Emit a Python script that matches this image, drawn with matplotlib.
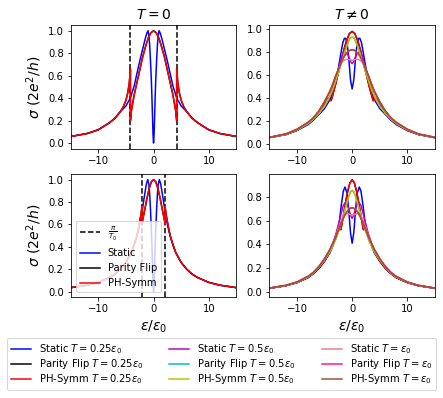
import numpy as np
import matplotlib
matplotlib.use("Agg")
from matplotlib import pyplot as plt

# half curves (eps >= 0), mirrored about eps = 0
T0_list = [0.75, 1.5]   # dashed lines at pi/T0

# ---- T = 0, T0 = 0.75 (top left)
x_st_a = [0, 0.1, 0.2, 0.3, 0.4, 0.55, 0.7, 0.85, 1.0, 1.2, 1.5, 2.0, 2.5, 3.0, 3.5, 4.2, 5, 6, 7, 8, 10, 12, 15]
y_st_a = [0, 0.08, 0.25, 0.42, 0.56, 0.73, 0.87, 0.96, 1.0, 0.98, 0.93, 0.83, 0.73, 0.62, 0.51, 0.40, 0.33, 0.28, 0.22, 0.18, 0.118, 0.085, 0.058]
x_ph_a = [0, 0.5, 1.0, 1.5, 2.0, 2.5, 3.0, 3.5, 4.0, 4.19, 4.19, 4.4, 4.7, 5.0, 5.5, 6.0, 7, 8, 10, 12, 15]
y_ph_a = [1.0, 0.98, 0.93, 0.85, 0.76, 0.65, 0.54, 0.43, 0.29, 0.2, 0.66, 0.53, 0.44, 0.38, 0.32, 0.28, 0.22, 0.18, 0.118, 0.085, 0.058]

# ---- T = 0, T0 = 1.5 (bottom left)
x_st_b = [0, 0.1, 0.2, 0.3, 0.4, 0.55, 0.7, 0.85, 1.05, 1.3, 1.6, 2.0, 2.5, 3.0, 3.5, 4, 5, 6, 7, 8, 10, 12, 15]
y_st_b = [0, 0.08, 0.25, 0.42, 0.56, 0.73, 0.87, 0.96, 1.0, 0.96, 0.87, 0.74, 0.6, 0.5, 0.42, 0.35, 0.26, 0.2, 0.155, 0.125, 0.082, 0.057, 0.035]
x_ph_b = [0, 0.4, 0.8, 1.2, 1.6, 2.0, 2.09, 2.09, 2.3, 2.6, 3.0, 3.5, 4, 5, 6, 7, 8, 10, 12, 15]
y_ph_b = [1.0, 0.98, 0.92, 0.83, 0.73, 0.63, 0.6, 0.76, 0.68, 0.6, 0.5, 0.42, 0.35, 0.26, 0.2, 0.155, 0.125, 0.082, 0.057, 0.035]

# ---- T != 0, T0 = 0.75 (top right)
x_tr = [0, 0.3, 0.6, 0.9, 1.2, 1.4, 1.7, 2.0, 2.5, 3.0, 3.5, 4.0, 5, 6, 7, 8, 10, 12, 15]
y_tr_st1 = [0.48, 0.56, 0.74, 0.88, 0.92, 0.92, 0.88, 0.8, 0.66, 0.54, 0.45, 0.39, 0.31, 0.26, 0.21, 0.17, 0.12, 0.085, 0.058]
y_tr_st2 = [0.70, 0.72, 0.76, 0.79, 0.80, 0.80, 0.78, 0.74, 0.65, 0.56, 0.48, 0.42, 0.33, 0.27, 0.22, 0.18, 0.125, 0.087, 0.059]
y_tr_st3 = [0.73, 0.733, 0.736, 0.738, 0.735, 0.73, 0.72, 0.70, 0.65, 0.59, 0.53, 0.47, 0.37, 0.29, 0.23, 0.19, 0.13, 0.09, 0.06]
y_tr_ph2 = [0.93, 0.925, 0.90, 0.86, 0.82, 0.79, 0.74, 0.70, 0.62, 0.55, 0.48, 0.42, 0.33, 0.27, 0.22, 0.18, 0.125, 0.087, 0.059]
y_tr_ph3 = [0.82, 0.818, 0.81, 0.795, 0.78, 0.765, 0.74, 0.71, 0.65, 0.59, 0.52, 0.46, 0.37, 0.29, 0.23, 0.19, 0.13, 0.09, 0.06]
x_tr_ph1 = [0, 0.5, 1.0, 1.5, 2.0, 2.5, 3.0, 3.5, 3.8, 4.0, 4.3, 4.7, 5.2, 6, 7, 8, 10, 12, 15]
y_tr_ph1 = [0.98, 0.96, 0.9, 0.82, 0.72, 0.62, 0.52, 0.43, 0.38, 0.38, 0.40, 0.38, 0.33, 0.27, 0.22, 0.18, 0.12, 0.085, 0.058]

# ---- T != 0, T0 = 1.5 (bottom right)
x_br = [0, 0.3, 0.6, 0.9, 1.3, 1.6, 2.0, 2.3, 2.7, 3.0, 3.5, 4, 5, 6, 7, 8, 10, 12, 15]
y_br_st1 = [0.41, 0.5, 0.68, 0.83, 0.885, 0.85, 0.72, 0.6, 0.51, 0.46, 0.39, 0.33, 0.26, 0.2, 0.155, 0.12, 0.078, 0.052, 0.03]
y_br_st2 = [0.62, 0.65, 0.70, 0.74, 0.75, 0.73, 0.66, 0.6, 0.53, 0.48, 0.41, 0.35, 0.27, 0.21, 0.16, 0.125, 0.08, 0.053, 0.031]
y_br_st3 = [0.65, 0.652, 0.656, 0.66, 0.655, 0.64, 0.6, 0.56, 0.51, 0.47, 0.41, 0.36, 0.28, 0.215, 0.165, 0.13, 0.083, 0.055, 0.032]
y_br_ph2 = [0.856, 0.845, 0.81, 0.76, 0.69, 0.64, 0.58, 0.53, 0.48, 0.44, 0.39, 0.34, 0.27, 0.21, 0.16, 0.125, 0.08, 0.053, 0.031]
y_br_ph3 = [0.71, 0.707, 0.695, 0.68, 0.65, 0.62, 0.58, 0.54, 0.5, 0.46, 0.41, 0.36, 0.28, 0.215, 0.165, 0.13, 0.083, 0.055, 0.032]
x_br_ph1 = [0, 0.4, 0.8, 1.2, 1.6, 1.9, 2.05, 2.2, 2.5, 3.0, 3.5, 4, 5, 6, 7, 8, 10, 12, 15]
y_br_ph1 = [0.946, 0.92, 0.85, 0.75, 0.64, 0.56, 0.525, 0.55, 0.53, 0.47, 0.40, 0.34, 0.26, 0.2, 0.155, 0.12, 0.078, 0.052, 0.03]

kinds = ["Static", "Parity Flip", "PH-Symm"]
temps = [r"0.25\epsilon_0", r"0.5\epsilon_0", r"\epsilon_0"]
colors = [["b", "k", "r"], ["m", "c", "y"], ["lightcoral", "deeppink", "sienna"]]


def mirror(xh, yh):
    xh, yh = np.array(xh, float), np.array(yh, float)
    return np.concatenate([-xh[::-1], xh[1:]]), np.concatenate([yh[::-1], yh[1:]])


fig = plt.figure(figsize=(443 / 72, 398 / 72), dpi=72)
ax_tl = fig.add_axes([0.1596, 0.6265, 0.374, 0.3105])
ax_tr = fig.add_axes([0.6079, 0.6265, 0.374, 0.3105])
ax_bl = fig.add_axes([0.1596, 0.2533, 0.374, 0.3095])
ax_br = fig.add_axes([0.6079, 0.2533, 0.374, 0.3095])

# T = 0 panels (parity flip coincides with PH-Symm)
for ax, T0, st, ph in [(ax_tl, T0_list[0], (x_st_a, y_st_a), (x_ph_a, y_ph_a)),
                       (ax_bl, T0_list[1], (x_st_b, y_st_b), (x_ph_b, y_ph_b))]:
    ax.axvline(-np.pi / T0, color="k", ls="--", label=r"$\frac{\pi}{T_0}$")
    ax.axvline(np.pi / T0, color="k", ls="--")
    ax.plot(*mirror(*st), color="b", label="Static")
    ax.plot(*mirror(*ph), color="k", label="Parity Flip")
    ax.plot(*mirror(*ph), color="r", label="PH-Symm")
    ax.set_xlim(-15, 15)
    ax.set_ylim(-0.05, 1.05)
    ax.set_ylabel(r"$\sigma$ $(2e^2/h)$", fontsize=14)

# T != 0 panels
sets = [
    (ax_tr, [(x_tr, y_tr_st1), (x_tr_ph1, y_tr_ph1), (x_tr_ph1, y_tr_ph1)],
            [(x_tr, y_tr_st2), (x_tr, y_tr_ph2), (x_tr, y_tr_ph2)],
            [(x_tr, y_tr_st3), (x_tr, y_tr_ph3), (x_tr, y_tr_ph3)]),
    (ax_br, [(x_br, y_br_st1), (x_br_ph1, y_br_ph1), (x_br_ph1, y_br_ph1)],
            [(x_br, y_br_st2), (x_br, y_br_ph2), (x_br, y_br_ph2)],
            [(x_br, y_br_st3), (x_br, y_br_ph3), (x_br, y_br_ph3)]),
]
handles = []
for ax, *groups in sets:
    hh = []
    for i, grp in enumerate(groups):
        for j, (xh, yh) in enumerate(grp):
            l, = ax.plot(*mirror(xh, yh), color=colors[i][j],
                         label=r"%s $T=%s$" % (kinds[j], temps[i]))
            hh.append(l)
    ax.set_xlim(-15, 15)
    handles = hh
ax_tr.set_ylim(-0.038, 1.035)
ax_br.set_ylim(-0.045, 0.995)

ax_tl.set_title(r"$T=0$", fontsize=14)
ax_tr.set_title(r"$T\neq0$", fontsize=14)
ax_bl.set_xlabel(r"$\epsilon/\epsilon_0$", fontsize=14)
ax_br.set_xlabel(r"$\epsilon/\epsilon_0$", fontsize=14)

ax_bl.legend(loc="lower left")
fig.legend(handles, [h.get_label() for h in handles], ncol=3,
           loc="upper center", bbox_to_anchor=(0.5, 1 - 335 / 398),
           labelspacing=0.12, columnspacing=2.6, borderaxespad=0.3)

fig.savefig("out.png", dpi=72)
